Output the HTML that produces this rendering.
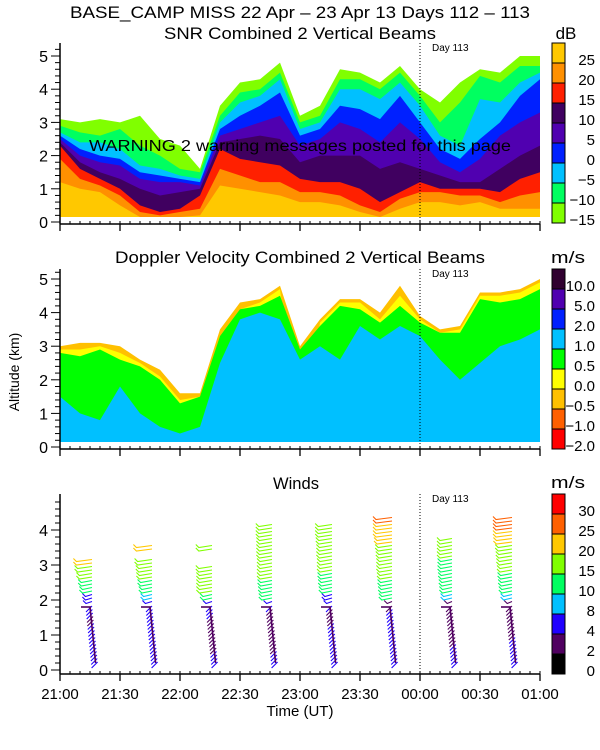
<!DOCTYPE html>
<html><head><meta charset="utf-8">
<style>
html,body{margin:0;padding:0;background:#fff;}
svg{display:block;font-family:"Liberation Sans",sans-serif;}
</style></head>
<body>
<svg id="c" width="600" height="750" viewBox="0 0 600 750" xmlns="http://www.w3.org/2000/svg">
<rect width="600" height="750" fill="#fff"/>
<text x="300" y="18" text-anchor="middle" font-size="17" textLength="460" lengthAdjust="spacingAndGlyphs">BASE_CAMP MISS  22 Apr – 23 Apr 13 Days 112 – 113</text>
<text x="300" y="39" text-anchor="middle" font-size="17" textLength="272" lengthAdjust="spacingAndGlyphs">SNR Combined 2 Vertical Beams</text>
<text x="300" y="263" text-anchor="middle" font-size="17" textLength="370" lengthAdjust="spacingAndGlyphs">Doppler Velocity Combined 2 Vertical Beams</text>
<text x="296" y="489" text-anchor="middle" font-size="17" textLength="46" lengthAdjust="spacingAndGlyphs">Winds</text>
<text x="566" y="39" text-anchor="middle" font-size="17">dB</text>
<text x="568" y="263" text-anchor="middle" font-size="17" textLength="34" lengthAdjust="spacingAndGlyphs">m/s</text>
<text x="568" y="488" text-anchor="middle" font-size="17" textLength="34" lengthAdjust="spacingAndGlyphs">m/s</text>
<text transform="translate(19,372) rotate(-90)" text-anchor="middle" font-size="14">Altitude (km)</text>
<text x="300" y="716" text-anchor="middle" font-size="15">Time (UT)</text>
<g id="layers"></g>
</svg>
<script>
// ---- data ----
const timeSteps = [0,10,20,30,40,50,60,70,80,90,100,110,120,130,140,150,160,170,180,190,200,210,220,230,240]; // minutes after 21:00
const snrLevels = [-15,-10,-5,0,5,10,15,20,25];
const snrColors = ['#80ff00','#00ff60','#00c0ff','#0020ff','#5000b0','#400060','#ff2000','#ff9000','#ffc800'];
const snrTopM15 = [3.1,3.0,3.1,3.0,3.2,2.5,2.3,1.6,3.5,4.2,4.3,4.8,3.2,3.5,4.6,4.5,4.2,4.7,4.0,3.6,4.2,4.6,4.5,5.0,5.0];
const snrTopM10 = [2.9,2.7,2.6,2.8,2.3,2.0,1.6,1.5,3.2,3.9,4.0,4.5,3.0,3.2,4.3,4.3,4.0,4.5,3.8,3.0,3.6,4.4,4.2,4.7,4.7];
const snrTopM5  = [2.7,2.4,2.4,2.2,1.7,1.6,1.4,1.3,3.0,3.6,3.8,4.3,2.8,3.0,4.0,4.0,3.7,4.2,3.5,2.6,2.3,3.7,3.6,4.2,4.5];
const snrTop0   = [2.6,2.2,2.0,1.9,1.5,1.4,1.3,1.2,2.8,3.2,3.5,3.9,2.6,2.8,3.5,3.4,3.1,3.8,3.0,2.2,1.9,2.5,3.0,3.8,4.3];
const snrTop5   = [2.5,2.0,1.8,1.7,1.3,1.2,1.2,1.1,2.6,2.8,3.0,3.2,2.3,2.5,3.0,2.8,2.4,3.0,2.5,1.8,1.5,1.9,2.6,3.0,3.3];
const snrTop10  = [2.4,1.8,1.5,1.3,1.0,0.8,0.9,1.0,2.4,2.5,2.6,2.5,1.8,2.0,2.0,2.0,1.6,1.8,1.6,1.4,1.2,1.2,1.6,2.0,2.3];
const snrTop15  = [2.3,1.6,1.3,1.0,0.5,0.3,0.4,0.8,2.2,1.9,1.8,1.7,1.3,1.2,1.2,1.0,0.6,0.9,1.2,1.0,1.0,1.0,0.9,1.3,1.5];
const snrTop20  = [1.9,1.3,1.1,0.8,0.3,0.2,0.3,0.4,1.6,1.4,1.2,1.2,0.9,0.9,0.8,0.5,0.3,0.7,0.9,0.9,0.8,0.8,0.6,0.8,0.9];
const snrTop25  = [1.2,1.0,0.9,0.5,0.1,0.1,0.1,0.2,1.1,1.0,0.9,0.8,0.6,0.6,0.5,0.3,0.1,0.4,0.6,0.6,0.5,0.6,0.4,0.4,0.4];
const snrLabels = ['25','20','15','10','5','0','−5','−10','−15'];

const dopColors = ['#ff0000','#ff6000','#ffc000','#ffff00','#00ff00','#00c0ff','#0020ff','#5000b0','#300030'];
const dopLabels = ['10.0','5.0','2.0','1.0','0.5','0.0','−0.5','−1.0','−2.0'];
const dopTopEcho  = [3.0,3.1,3.1,3.0,2.6,2.3,1.6,1.6,3.5,4.3,4.4,4.8,3.0,3.8,4.4,4.4,4.0,4.8,3.9,3.5,3.6,4.6,4.6,4.7,5.0];
const dopTopYellow= [2.9,2.9,3.0,2.8,2.5,2.1,1.4,1.5,0.0,4.1,4.3,4.7,0.0,3.7,4.3,4.3,3.8,4.5,3.8,3.4,3.5,4.5,4.5,4.6,4.9];
const dopTopGreen = [2.8,2.7,2.9,2.6,2.4,2.0,1.3,1.5,3.3,4.1,4.2,4.5,2.9,3.6,4.2,4.1,3.7,4.2,3.7,3.4,3.4,4.4,4.3,4.4,4.7];
const dopTopCyan  = [1.5,1.0,0.8,1.8,1.0,0.6,0.4,0.6,2.5,3.8,4.0,3.8,2.6,3.0,2.6,3.6,3.2,3.6,3.3,2.6,2.0,2.5,3.0,3.2,3.5];

const windColors = ['#000000','#500060','#2000ff','#00c0ff','#00ff60','#80ff00','#ffc800','#ff6000','#ff0000'];
const windBins = [0,2,4,8,10,15,20,25,30];
const windLabels = ['30','25','20','15','10','8','4','2','0'];
const windTimes = [15,45,75,105,135,165,195,225]; // minutes after 21:00
const windAlts = [0.2,0.4,0.6,0.8,1.0,1.2,1.4,1.6,1.8,2.0,2.2,2.4,2.6,2.8,3.0,3.2,3.4,3.6,3.8,4.0,4.2];
const windP1 = [5,5,5,5,5,4,3,4,5,6,11,13,16,19,21,null,null,null,null,null,null];
const windP2 = [5,5,5,5,5,5,5,4,6,9,12,14,16,17,19,null,21,null,null,null,null];
const windP3 = [5,5,3,3,3,3,3,4,5,10,16,16,16,17,null,null,17,null,null,null,null];
const windP4 = [5,5,3,3,3,3,3,3,4,12,13,14,15,15,15,16,16,16,17,17,null];
const windP5 = [5,5,5,5,5,5,3,3,4,7,12,13,14,15,15,16,16,17,18,18,null];
const windP6 = [5,5,5,5,5,5,5,5,3,12,13,14,15,16,16,17,18,20,22,24,26];
const windP7 = [5,5,5,3,3,3,3,3,3,9,11,12,13,14,14,15,15,15,null,null,null];
const windP8 = [5,5,5,5,3,3,3,3,3,9,12,13,14,15,16,17,18,21,23,26,27];
const windProfiles = [windP1,windP2,windP3,windP4,windP5,windP6,windP7,windP8];

// ---- axes ----
const NS='http://www.w3.org/2000/svg';
const X0=60, PXH=120;
const xT = m => X0 + m/60*PXH;
const yS = km => 222 - km*33.2;
const yD = km => 447 - km*33.6;
const yW = km => 670 - km*35;
const root=document.getElementById('layers');
function mk(tag, attrs, parent){const e=document.createElementNS(NS,tag);for(const k in attrs)e.setAttribute(k,attrs[k]);(parent||root).appendChild(e);return e;}

function area(tops, yf, color, name, parent){
  let pts=[];
  timeSteps.forEach((t,i)=>{const h=Math.max(tops[i],0.15);pts.push(xT(t)+','+yf(h));});
  pts.push(xT(timeSteps[timeSteps.length-1])+','+yf(0.15));
  pts.push(xT(0)+','+yf(0.15));
  const p=mk('polygon',{points:pts.join(' '),fill:color},parent);
  
  
}

// SNR panel
const gS=mk('g',{});


const snrTops=[snrTopM15,snrTopM10,snrTopM5,snrTop0,snrTop5,snrTop10,snrTop15,snrTop20,snrTop25];
snrTops.forEach((tops,i)=>area(tops,yS,snrColors[i],'snr-area-'+snrLevels[i],gS));

// Doppler panel
const gD=mk('g',{});


area(dopTopEcho,yD,'#ffc000','doppler-area-orange',gD);
area(dopTopYellow,yD,'#ffff00','doppler-area-yellow',gD);
area(dopTopGreen,yD,'#00ff00','doppler-area-green',gD);
area(dopTopCyan,yD,'#00c0ff','doppler-area-cyan',gD);

// Winds
const gW=mk('g',{});


function wcol(s){let c=0;windBins.forEach((b,i)=>{if(s>=b)c=i;});return windColors[c];}
windProfiles.forEach((prof,pi)=>{
  const tx=xT(windTimes[pi]);
  const stem=[];
  prof.forEach((s,li)=>{
    if(s===null) return;
    const a=windAlts[li];
    for(let k=0;k<2;k++){
      const alt=a+k*0.1;
      const y=yW(alt);
      let line;
      if(alt>=1.85){
        const L=Math.min(17,4+s*0.6);
        line=mk('polyline',{points:(tx-L)+','+(y-3)+' '+(tx-L+3)+','+y+' '+(tx+2)+','+(y-2),fill:'none',stroke:wcol(s),'stroke-width':1.1},gW);
      } else {
        const bx=tx+(1.8-alt)*3.5;
        stem.push(bx+','+y);
        line=mk('line',{x1:bx-4,y1:y+5,x2:bx+2,y2:y-1,stroke:wcol(s),'stroke-width':1.1},gW);
      }
      
      
    }
  });
  const st=mk('polyline',{points:stem.join(' '),fill:'none',stroke:'#500060','stroke-width':1.6},gW);
  
  
  const top=mk('line',{x1:tx-9,y1:yW(1.8),x2:tx+1,y2:yW(1.8),stroke:'#500060','stroke-width':1.6},gW);
  
  
});

// axes
function axes(yf, maxKm, tickMax, xAxisY, topY, name){
  const g=mk('g',{});
  
  
  mk('line',{x1:X0,y1:topY,x2:X0,y2:xAxisY,stroke:'#000','stroke-width':1.5},g);
  mk('line',{x1:X0,y1:xAxisY,x2:540,y2:xAxisY,stroke:'#000','stroke-width':1.5},g);
  for(let v=0; v<=tickMax+0.001; v+=0.2){
    const y=yf(v); const maj=Math.abs(v-Math.round(v))<0.01;
    mk('line',{x1:X0-(maj?9:5),y1:y,x2:X0,y2:y,stroke:'#000','stroke-width':1},g);
  }
  for(let k=0;k<=maxKm;k++){
    const t=mk('text',{x:48,y:yf(k)+6,'text-anchor':'end','font-size':16},g);
    t.textContent=k;
    
    
  }
  for(let m=0;m<=240;m+=30){
    mk('line',{x1:xT(m),y1:xAxisY,x2:xT(m),y2:xAxisY+7,stroke:'#000','stroke-width':1.3},g);
  }
  for(let m=0;m<=240;m+=5){
    mk('line',{x1:xT(m),y1:xAxisY,x2:xT(m),y2:xAxisY-3,stroke:'#000','stroke-width':1},g);
  }
  mk('line',{x1:420,y1:topY,x2:420,y2:xAxisY,stroke:'#000','stroke-width':1,'stroke-dasharray':'1,2'},g);
  const d=mk('text',{x:432,y:topY+8,'font-size':10},g);
  d.textContent='Day 113';
  
  
}
axes(yS,5,5.2,224,43,'snr-axes');
axes(yD,5,5.2,449,269,'doppler-axes');
axes(yW,4,4.8,674,494,'winds-axes');

const timeLabels=['21:00','21:30','22:00','22:30','23:00','23:30','00:00','00:30','01:00'];
timeLabels.forEach((s,i)=>{
  const t=mk('text',{x:xT(i*30),y:699,'text-anchor':'middle','font-size':15});
  t.textContent=s;
  
  
});

const w=mk('text',{x:300,y:151,'text-anchor':'middle','font-size':16,textLength:422,lengthAdjust:'spacingAndGlyphs'});
w.textContent='WARNING  2 warning messages posted for this page';



function cbar(colors, labels, top, name){
  const g=mk('g',{});
  
  
  const h=20;
  colors.slice().reverse().forEach((c,i)=>{
    const r=mk('rect',{x:552,y:top+i*h,width:13,height:h,fill:c,stroke:'#000','stroke-width':1},g);
    
    
  });
  labels.forEach((s,i)=>{
    const t=mk('text',{x:595,y:top+(i+1)*h+2,'text-anchor':'end','font-size':15},g);
    t.textContent=s;
    
    
  });
}
cbar(snrColors,snrLabels,43,'snr-colorbar');
cbar(dopColors,dopLabels,269,'doppler-colorbar');
cbar(windColors,windLabels,494,'winds-colorbar');
</script>
</body></html>
